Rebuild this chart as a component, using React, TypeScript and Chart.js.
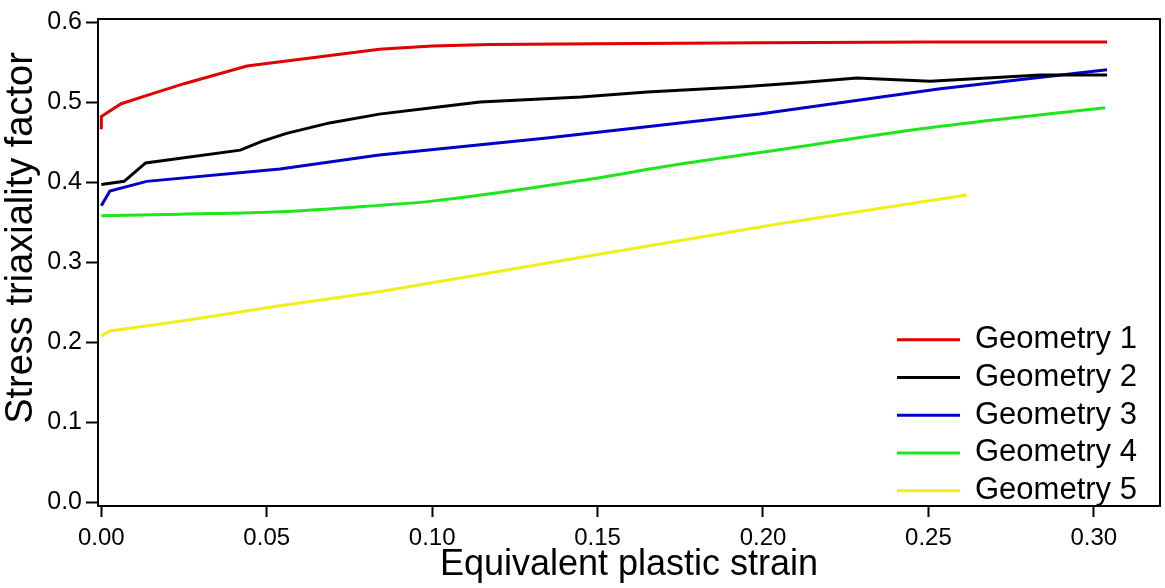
import React, { useEffect, useRef } from "react";
import { Chart, registerables } from "chart.js";

Chart.register(...registerables);

const seriesLabels = ["Geometry 1", "Geometry 2", "Geometry 3", "Geometry 4", "Geometry 5"];
const seriesColors = ["#e00000", "#000000", "#0000c8", "#1ee61e", "#f2ee1a"];

const g1Strain = [0, 0, 0.006, 0.015, 0.025, 0.044, 0.065, 0.084, 0.1, 0.1175, 0.15, 0.2, 0.25, 0.304];
const g1Triax = [0.466, 0.482, 0.498, 0.51, 0.523, 0.545, 0.556, 0.566, 0.57, 0.572, 0.573, 0.574, 0.575, 0.575];

const g2Strain = [0, 0.0069, 0.0134, 0.042, 0.0485, 0.056, 0.069, 0.084, 0.1, 0.1145, 0.145, 0.165, 0.193, 0.21, 0.2284, 0.2505, 0.2838, 0.304];
const g2Triax = [0.397, 0.401, 0.424, 0.44, 0.451, 0.461, 0.474, 0.485, 0.493, 0.5, 0.5065, 0.5127, 0.519, 0.524, 0.53, 0.526, 0.534, 0.534];

const g3Strain = [0, 0.0026, 0.0137, 0.054, 0.084, 0.1347, 0.199, 0.2536, 0.304];
const g3Triax = [0.3705, 0.389, 0.401, 0.4165, 0.434, 0.4553, 0.485, 0.5167, 0.5405];

const g4Strain = [0, 0.0238, 0.054, 0.084, 0.0994, 0.145, 0.175, 0.199, 0.2536, 0.3034];
const g4Triax = [0.358, 0.36, 0.363, 0.371, 0.376, 0.402, 0.4226, 0.437, 0.4697, 0.493];

const g5Strain = [0, 0.0026, 0.0238, 0.054, 0.084, 0.1447, 0.205, 0.2616];
const g5Triax = [0.208, 0.214, 0.2262, 0.2456, 0.263, 0.306, 0.348, 0.384];

const xTickValues = [0, 0.05, 0.1, 0.15, 0.2, 0.25, 0.3];
const yTickValues = [0, 0.1, 0.2, 0.3, 0.4, 0.5, 0.6];

const xTitle = "Equivalent plastic strain";
const yTitle = "Stress triaxiality factor";

const FONT = '"Liberation Sans", Arial, Helvetica, sans-serif';

const allStrain = [g1Strain, g2Strain, g3Strain, g4Strain, g5Strain];
const allTriax = [g1Triax, g2Triax, g3Triax, g4Triax, g5Triax];

const framePlugin = {
  id: "frameLegendTitle",
  afterDraw(chart: any) {
    const { ctx, chartArea: a } = chart;
    ctx.save();
    // plot frame
    ctx.strokeStyle = "#000";
    ctx.lineWidth = 2;
    ctx.strokeRect(a.left, a.top, a.right - a.left, a.bottom - a.top);

    // legend
    ctx.font = `31px ${FONT}`;
    ctx.textBaseline = "middle";
    ctx.textAlign = "left";
    chart.data.datasets.forEach((ds: any, i: number) => {
      const y = a.top + 320.7 + i * 37.75;
      ctx.strokeStyle = ds.borderColor;
      ctx.lineWidth = 3;
      ctx.beginPath();
      ctx.moveTo(a.left + 799, y);
      ctx.lineTo(a.left + 862, y);
      ctx.stroke();
      ctx.fillStyle = "#000";
      ctx.fillText(ds.label, a.left + 877, y);
    });

    // y title
    ctx.translate(22, 238);
    ctx.rotate(-Math.PI / 2);
    ctx.font = `38px ${FONT}`;
    ctx.textAlign = "center";
    ctx.textBaseline = "middle";
    ctx.fillStyle = "#000";
    ctx.fillText(yTitle, 0, 0);
    ctx.restore();
  },
};

export default function App() {
  const canvasRef = useRef<HTMLCanvasElement | null>(null);

  useEffect(() => {
    const canvas = canvasRef.current;
    if (!canvas) return;
    const datasets = seriesLabels.map((label, i) => ({
      label,
      data: allStrain[i].map((x, j) => ({ x, y: allTriax[i][j] })),
      borderColor: seriesColors[i],
      backgroundColor: seriesColors[i],
      borderWidth: 3,
      pointRadius: 0,
      fill: false,
      tension: 0,
      cubicInterpolationMode: i === 3 ? ("monotone" as const) : ("default" as const),
    }));

    const chart = new Chart(canvas, {
      type: "line",
      data: { datasets },
      plugins: [framePlugin],
      options: {
        animation: false,
        responsive: false,
        devicePixelRatio: 1,
        layout: { padding: { top: 11, right: 5, left: 0, bottom: 0 } },
        plugins: {
          legend: { display: false },
          tooltip: { enabled: false },
        },
        scales: {
          x: {
            type: "linear",
            min: -0.001,
            max: 0.32,
            afterFit: (s: any) => {
              s.height = 82;
            },
            afterBuildTicks: (s: any) => {
              s.ticks = xTickValues.map((v) => ({ value: v }));
            },
            border: { display: true, color: "#000", width: 2 },
            grid: {
              display: true,
              drawOnChartArea: false,
              drawTicks: true,
              tickLength: 11,
              tickWidth: 2,
              tickColor: "#000",
            },
            ticks: {
              color: "#000",
              padding: 7,
              maxRotation: 0,
              autoSkip: false,
              font: { family: FONT, size: 24 },
              callback: (v: any) => Number(v).toFixed(2),
            },
            title: {
              display: true,
              text: xTitle,
              color: "#000",
              font: { family: FONT, size: 36, lineHeight: 1 },
              padding: { top: 0, bottom: 5 },
            },
          },
          y: {
            type: "linear",
            min: -0.0045,
            max: 0.6038,
            afterFit: (s: any) => {
              s.width = 98;
            },
            afterBuildTicks: (s: any) => {
              s.ticks = yTickValues.map((v) => ({ value: v }));
            },
            border: { display: true, color: "#000", width: 2 },
            grid: {
              display: true,
              drawOnChartArea: false,
              drawTicks: true,
              tickLength: 12,
              tickWidth: 2,
              tickColor: "#000",
            },
            ticks: {
              color: "#000",
              padding: 4,
              autoSkip: false,
              font: { family: FONT, size: 25 },
              callback: (v: any) => Number(v).toFixed(1),
            },
            title: { display: false },
          },
        },
      },
    });
    return () => chart.destroy();
  }, []);

  return (
    <div style={{ position: "absolute", left: 0, top: 0, width: 1165, height: 588, background: "#fff" }}>
      <canvas ref={canvasRef} width={1165} height={588} />
    </div>
  );
}
